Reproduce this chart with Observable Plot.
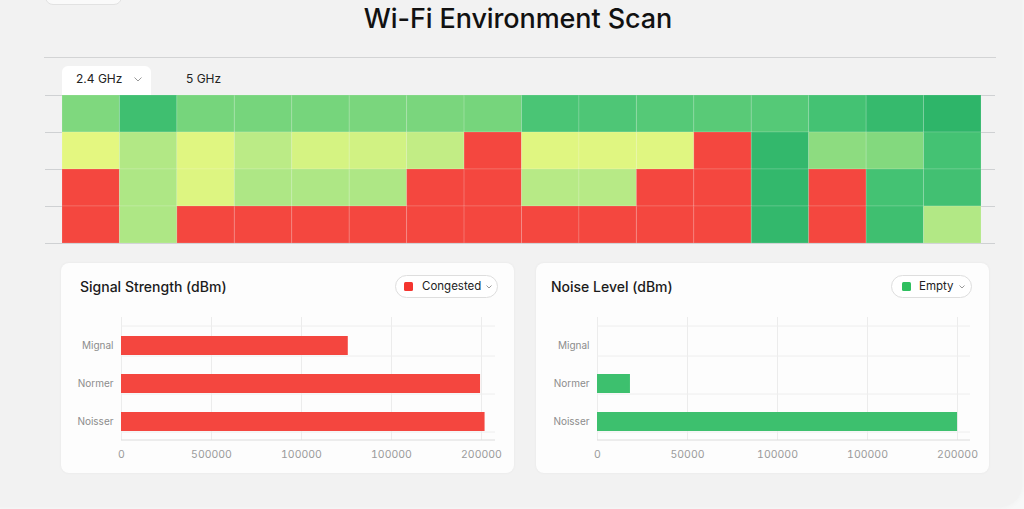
<!DOCTYPE html>
<html>
<head>
<meta charset="utf-8">
<script src="https://cdn.jsdelivr.net/npm/d3@7"></script>
<script src="https://cdn.jsdelivr.net/npm/@observablehq/plot@0.6"></script>
<style>
  html, body { margin: 0; padding: 0; }
  body { width: 1024px; height: 509px; background: #f7f8f8; position: relative; overflow: hidden;
         font-family: Inter, "Open Sans", "Liberation Sans", sans-serif; color: #1a1a1a; }
  #panel { position: absolute; left: -20px; top: -20px; width: 1042px; height: 527px; background: #f2f2f2;
           border-radius: 22px; box-shadow: 0 0 6px rgba(0,0,0,0.04); }
  #ghost { position: absolute; left: 45px; top: -30px; width: 75px; height: 33px; background: #fafafa;
           border: 1px solid #e2e2e2; border-radius: 8px; }
  #title { position: absolute; left: 12px; top: 1px; width: 1012px; text-align: center; font-size: 27px;
           font-weight: 500; line-height: 36px; color: #111; letter-spacing: -0.1px; }
  .hline { position: absolute; height: 1px; background: #d3d4d5; }
  #tab24 { position: absolute; left: 62px; top: 66px; width: 89px; height: 29px; background: #fff;
           border-radius: 6px 6px 0 0; }
  .tabtxt { position: absolute; font-size: 12px; line-height: 14px; color: #222; }
  .chev { position: absolute; }
  .card { position: absolute; top: 263px; width: 453px; height: 210px; background: #fdfdfd;
          border-radius: 8px; box-shadow: 0 0 3px rgba(0,0,0,0.05); }
  .ctitle { position: absolute; font-size: 14px; font-weight: 500; line-height: 18px; color: #1b1b1b; }
  .pill { position: absolute; top: 275px; height: 21px; background: #fff; border: 1px solid #dedede;
          border-radius: 12px; }
  .sw { position: absolute; top: 6px; width: 9px; height: 9px; border-radius: 1.5px; }
  .ptxt { position: absolute; top: 3px; font-size: 11.5px; line-height: 15px; color: #222; }
  .chart { position: absolute; }
</style>
</head>
<body>
<div id="panel"></div>
<div id="ghost"></div>
<div id="title">Wi-Fi Environment Scan</div>
<div class="hline" style="left:44px; top:57px; width:952px;"></div>
<div id="tab24"></div>
<div class="tabtxt" style="left:76px; top:72px;">2.4 GHz</div>
<svg class="chev" style="left:134px; top:77px;" width="8" height="5"><path d="M0.5 0.5 L4 4 L7.5 0.5" fill="none" stroke="#999" stroke-width="1"/></svg>
<div class="tabtxt" style="left:186px; top:72px;">5 GHz</div>
<div id="heat" class="chart" style="left:0px; top:94px;"></div>

<div class="card" style="left:61px;"></div>
<div class="card" style="left:536px;"></div>
<div class="ctitle" style="left:80px; top:278px;">Signal Strength (dBm)</div>
<div class="ctitle" style="left:551px; top:278px;">Noise Level (dBm)</div>

<div class="pill" style="left:395px; width:101px;">
  <div class="sw" style="left:8px; background:#f4352f;"></div>
  <div class="ptxt" style="left:26px;">Congested</div>
  <svg class="chev" style="left:90px; top:9px;" width="6" height="4"><path d="M0.5 0.5 L3 3 L5.5 0.5" fill="none" stroke="#999" stroke-width="1"/></svg>
</div>
<div class="pill" style="left:891px; width:79px;">
  <div class="sw" style="left:10px; background:#2fbf5f;"></div>
  <div class="ptxt" style="left:27px;">Empty</div>
  <svg class="chev" style="left:67px; top:9px;" width="6" height="4"><path d="M0.5 0.5 L3 3 L5.5 0.5" fill="none" stroke="#999" stroke-width="1"/></svg>
</div>

<div id="sig" class="chart" style="left:61px; top:300px;"></div>
<div id="noise" class="chart" style="left:536px; top:300px;"></div>

<script>
// ---------- Heatmap data (channel quality score, 0–100) ----------
const channels = [1, 2, 3, 4, 5, 6, 7, 8, 9, 10, 11, 12, 13, 14, 15, 16];
const rowNames = ["Row 1", "Row 2", "Row 3", "Row 4"];
const row1 = [74, 92, 76, 76, 76, 75, 75, 76, 88, 87, 85, 84, 85, 90, 95, 98];
const row2 = [50, 63, 51, 61, 54, 55, 59, 20, 51, 51, 51, 20, 96, 71, 73, 90];
const row3 = [20, 64, 52, 64, 64, 64, 20, 20, 62, 62, 20, 20, 96, 20, 90, 91];
const row4 = [20, 64, 20, 20, 20, 20, 20, 20, 20, 20, 20, 20, 96, 20, 92, 63];

// ---------- Bar chart data ----------
const barCategories = ["Mignal", "Normer", "Noisser"];
const signalValues = [126000, 199500, 202000];
const noiseValues = [0, 18300, 200000];
const tickValues = [0, 50000, 100000, 150000, 200000];
const signalTickLabels = ["0", "500000", "100000", "100000", "200000"];
const noiseTickLabels = ["0", "50000", "100000", "100000", "200000"];

// ---------- Heatmap ----------
const rows = [row1, row2, row3, row4];
const cells = [];
rows.forEach((vals, r) => vals.forEach((v, c) => cells.push({row: r, rowName: rowNames[r], col: c, channel: channels[c], v})));

const heat = Plot.plot({
  width: 1024,
  height: 151,
  marginLeft: 45,
  marginRight: 29,
  marginTop: 1,
  marginBottom: 2,
  style: {background: "transparent"},
  x: {domain: [-0.296, channels.length + 0.244], axis: null},
  y: {domain: [0, rowNames.length], reverse: true, axis: null},
  color: {
    type: "linear",
    domain: [0, 49, 50, 62, 75, 88, 100],
    range: ["#f4473f", "#f4473f", "#e4f780", "#b7ea86", "#7ad67d", "#4ac575", "#28b267"]
  },
  marks: [
    Plot.ruleY(d3.range(rowNames.length + 1), {stroke: "#cfd1d3", strokeWidth: 1}),
    Plot.rect(cells, {
      x1: "col", x2: d => d.col + 1,
      y1: "row", y2: d => d.row + 1,
      fill: "v", stroke: "#ffffff", strokeOpacity: 0.14, strokeWidth: 1
    })
  ]
});
document.getElementById("heat").append(heat);

// ---------- Bar charts ----------
function barChart(values, labels, color, marginLeft, xMax) {
  const data = barCategories.map((cat, i) => ({cat, v: values[i]}));
  return Plot.plot({
    width: 453,
    height: 173,
    marginLeft,
    marginRight: 19,
    marginTop: 17,
    marginBottom: 33,
    style: {background: "transparent", fontFamily: "Inter, 'Open Sans', sans-serif"},
    x: {domain: [0, xMax], axis: null, label: null},
    y: {domain: barCategories, paddingInner: 0.5, paddingOuter: 0.35, align: 0.69, axis: null, label: null},
    marks: [
      Plot.ruleX(tickValues, {stroke: "#ececec"}),
      Plot.ruleY([barCategories[0]], {dy: -20, stroke: "#eeeeee"}),
      Plot.ruleY(barCategories, {dy: 10, stroke: "#eeeeee"}),
      Plot.ruleY([barCategories[barCategories.length - 1]], {dy: 18, stroke: "#dcdcdc"}),
      Plot.barX(data, {x: "v", y: "cat", fill: color}),
      Plot.axisX({ticks: tickValues, tickFormat: (d, i) => labels[i], tickSize: 0, tickPadding: 10,
                  fontSize: 10.5, color: "#9b9b9b", label: null}),
      Plot.axisY({tickSize: 0, tickPadding: 8, fontSize: 10, color: "#8c8c8c", label: null})
    ]
  });
}
document.getElementById("sig").append(barChart(signalValues, signalTickLabels, "#f4463f", 60, 207800));
document.getElementById("noise").append(barChart(noiseValues, noiseTickLabels, "#3dc06e", 61, 207200));
</script>
</body>
</html>
